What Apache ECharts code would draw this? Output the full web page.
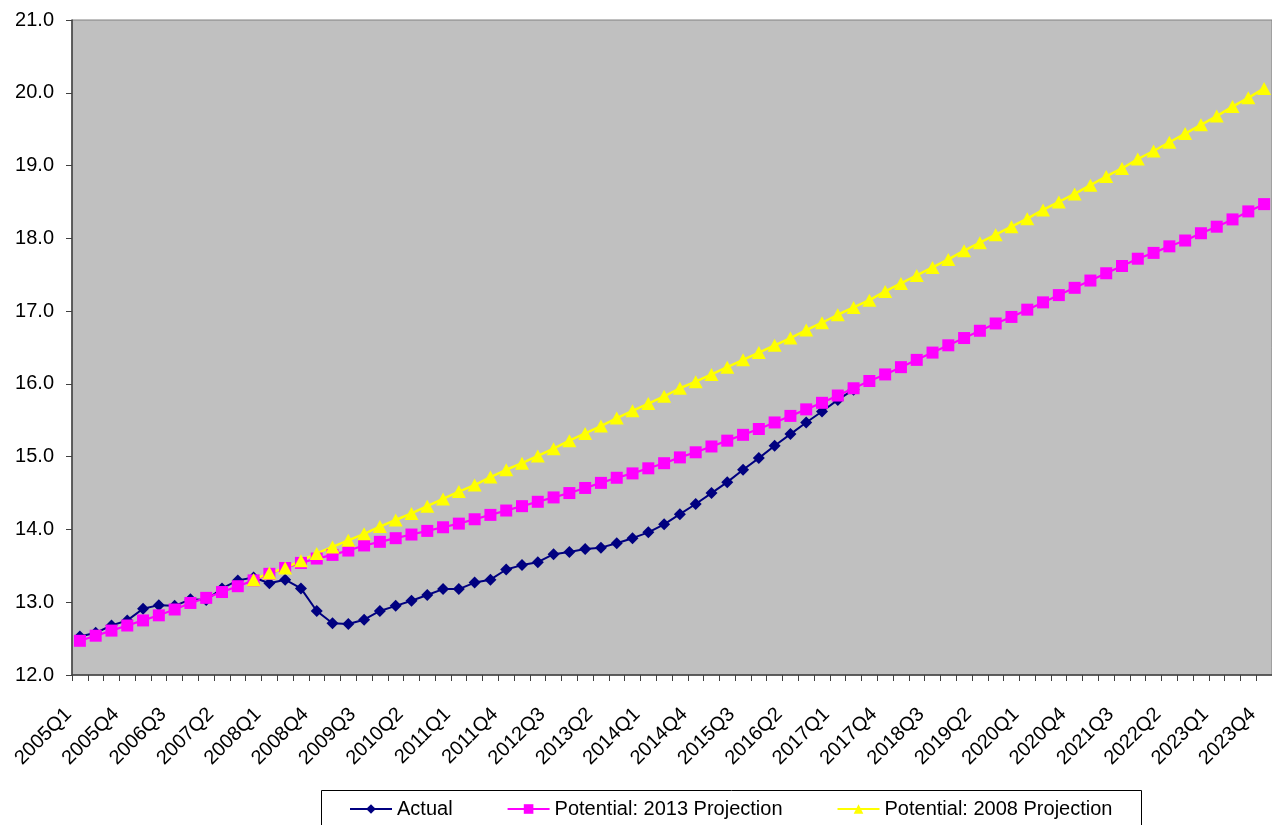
<!DOCTYPE html>
<html>
<head>
<meta charset="utf-8">
<script src="https://cdn.jsdelivr.net/npm/echarts@6/dist/echarts.min.js"></script>
<style>
  html, body { margin: 0; padding: 0; background: #ffffff; }
  #chart { width: 1272px; height: 825px; }
</style>
</head>
<body>
<div id="chart"></div>
<script>
// Quarter labels 2005Q1 .. 2023Q4
const years = [2005, 2006, 2007, 2008, 2009, 2010, 2011, 2012, 2013, 2014,
               2015, 2016, 2017, 2018, 2019, 2020, 2021, 2022, 2023];
const quarters = ['Q1', 'Q2', 'Q3', 'Q4'];
const categories = [];
years.forEach(y => quarters.forEach(q => categories.push(y + q)));

// Actual (through 2017Q2)
const actual = [
  12.53, 12.58, 12.68, 12.75, 12.91, 12.96, 12.95, 13.04, 13.03, 13.19,
  13.30, 13.34, 13.26, 13.31, 13.19, 12.88, 12.71, 12.70, 12.76, 12.88,
  12.95, 13.02, 13.10, 13.18, 13.18, 13.27, 13.31, 13.45, 13.51, 13.55,
  13.66, 13.69, 13.73, 13.75, 13.81, 13.88, 13.96, 14.07, 14.21, 14.35,
  14.50, 14.65, 14.82, 14.98, 15.15, 15.31, 15.47, 15.62, 15.78, 15.92
];

// Potential: 2013 Projection
const potential2013 = [
  12.47, 12.54, 12.61, 12.68, 12.75, 12.82, 12.90, 12.99, 13.06, 13.14,
  13.22, 13.30, 13.39, 13.47, 13.54, 13.60, 13.65, 13.71, 13.78, 13.83,
  13.88, 13.93, 13.98, 14.03, 14.08, 14.14, 14.20, 14.26, 14.32, 14.38,
  14.44, 14.50, 14.57, 14.64, 14.71, 14.77, 14.84, 14.91, 14.99, 15.06,
  15.14, 15.22, 15.30, 15.38, 15.47, 15.56, 15.65, 15.74, 15.84, 15.94,
  16.04, 16.13, 16.23, 16.33, 16.43, 16.53, 16.63, 16.73, 16.83, 16.92,
  17.02, 17.12, 17.22, 17.32, 17.42, 17.52, 17.62, 17.72, 17.80, 17.89,
  17.97, 18.07, 18.16, 18.26, 18.37, 18.47
];

// Potential: 2008 Projection (from 2007Q4)
const potential2008 = [
  null, null, null, null, null, null, null, null, null, null,
  null, 13.31, 13.40, 13.47, 13.57, 13.67, 13.76, 13.85, 13.94, 14.04,
  14.13, 14.22, 14.32, 14.42, 14.52, 14.61, 14.72, 14.82, 14.91, 15.01,
  15.11, 15.22, 15.32, 15.42, 15.53, 15.63, 15.73, 15.83, 15.94, 16.03,
  16.13, 16.23, 16.33, 16.43, 16.53, 16.63, 16.74, 16.84, 16.95, 17.05,
  17.15, 17.27, 17.38, 17.49, 17.60, 17.71, 17.83, 17.94, 18.05, 18.16,
  18.27, 18.39, 18.50, 18.61, 18.73, 18.85, 18.96, 19.09, 19.20, 19.32,
  19.44, 19.56, 19.68, 19.81, 19.93, 20.06
];

const seriesNames = ['Actual', 'Potential: 2013 Projection', 'Potential: 2008 Projection'];

const FONT = '"Liberation Sans", Arial, sans-serif';

const chart = echarts.init(document.getElementById('chart'), null, { renderer: 'canvas' });

chart.setOption({
  animation: false,
  backgroundColor: '#ffffff',
  textStyle: { fontFamily: FONT },
  grid: {
    left: 72, right: -2, top: 20, bottom: 150,
    show: true,
    backgroundColor: '#C0C0C0',
    borderColor: '#808080',
    borderWidth: 1
  },
  graphic: [{
    type: 'rect',
    shape: { x: 321.5, y: 790.5, width: 820, height: 60 },
    style: { fill: '#ffffff', stroke: '#000000', lineWidth: 1 },
    z: 0
  }],
  legend: {
    left: 349, top: 799,
    padding: 0,
    itemWidth: 42, itemHeight: 12,
    itemGap: 54,
    textStyle: { fontFamily: FONT, fontSize: 20, color: '#000000' },
    data: seriesNames
  },
  xAxis: {
    type: 'category',
    data: categories,
    boundaryGap: true,
    axisLine: { show: true, lineStyle: { color: '#404040', width: 1.5 } },
    axisTick: { show: true, interval: 0, length: 6, lineStyle: { color: '#404040' } },
    axisLabel: {
      interval: 2, rotate: 45, margin: 25,
      padding: [0, 16, 0, 0],
      fontFamily: FONT, fontSize: 20, color: '#000000'
    },
    splitLine: { show: false }
  },
  yAxis: {
    type: 'value',
    min: 12, max: 21, interval: 1,
    axisLine: { show: true, lineStyle: { color: '#404040', width: 1.5 } },
    axisTick: { show: true, length: 6, lineStyle: { color: '#404040' } },
    axisLabel: {
      margin: 18, fontFamily: FONT, fontSize: 20, color: '#000000',
      formatter: v => v.toFixed(1)
    },
    splitLine: { show: false }
  },
  series: [
    {
      name: seriesNames[0], type: 'line', data: actual,
      symbol: 'diamond', symbolSize: 12, showAllSymbol: true,
      itemStyle: { color: '#000080' },
      lineStyle: { color: '#000080', width: 2 }
    },
    {
      name: seriesNames[1], type: 'line', data: potential2013,
      symbol: 'rect', symbolSize: 12, showAllSymbol: true,
      itemStyle: { color: '#FF00FF' },
      lineStyle: { color: '#FF00FF', width: 2.2 }
    },
    {
      name: seriesNames[2], type: 'line', data: potential2008,
      symbol: 'triangle', symbolSize: [14, 13], showAllSymbol: true,
      itemStyle: { color: '#FFFF00' },
      lineStyle: { color: '#FFFF00', width: 2.5 },
      connectNulls: false
    }
  ]
});
</script>
</body>
</html>
